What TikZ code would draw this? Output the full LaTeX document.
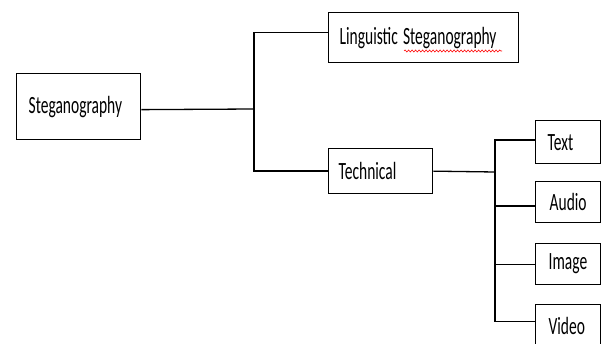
\documentclass[tikz,border=0pt]{standalone}
\usepackage{fontspec}
\setmainfont{Carlito}
\usetikzlibrary{decorations.pathmorphing}
\newcommand{\tall}[1]{\scalebox{1}[1.6]{#1}}
\begin{document}
\begin{tikzpicture}[x=1pt, y=-1pt,
  box/.style={draw, line width=1.3pt, rectangle, anchor=north west,
    align=left, inner ysep=0pt, font=\fontsize{15.5}{18}\selectfont},
  link/.style={line width=1.3pt}]
\useasboundingbox (0,0) rectangle (601,344);
\clip (0,0) rectangle (601,344);
% boxes: text width + 2*inner xsep = box width
\node[box, inner xsep=12pt, text width=100pt, minimum height=66pt] (steg) at (16,73) {\raisebox{4pt}{\tall{Steganography}}};
\node[box, inner xsep=11pt, text width=168pt, minimum height=50pt] (ling) at (328,12) {\tall{Linguistic Steganography}};
\node[box, inner xsep=10pt, text width=84pt, minimum height=45pt] (tech) at (328,148) {\tall{Technical}};
\node[box, inner xsep=12pt, text width=41pt, minimum height=43pt] (txt) at (535,120) {\tall{Text}};
\node[box, inner xsep=14pt, text width=37pt, minimum height=41pt] (aud) at (535,181) {\tall{Audio}};
\node[box, inner xsep=13pt, text width=39pt, minimum height=41pt] (img) at (535,243) {\tall{Image}};
\node[box, inner xsep=13pt, text width=39pt, minimum height=42pt] (vid) at (535,304) {\tall{Video}};
% spell-check underline
\draw[red, line width=0.6pt, decorate, decoration={snake, amplitude=1pt, segment length=3.5pt}] (404,51) -- (502,51);
% junction points
\coordinate (ja) at (254,109);
\coordinate (jb) at (495,172);
% first level
\draw[link] ([yshift=-3pt]steg.east) -- (ja);
\draw[link] (ja) |- ([yshift=5pt]ling.west);
\draw[link] (ja) |- (tech.west);
% second level
\draw[link] (tech.east) -- (jb);
\draw[link] (jb) |- ([yshift=2pt]txt.west);
\draw[link] (jb) |- ([yshift=-4pt]aud.west);
\draw[link] (jb) |- (img.west);
\draw[link] (jb) |- ([yshift=4pt]vid.west);
\end{tikzpicture}
\end{document}
